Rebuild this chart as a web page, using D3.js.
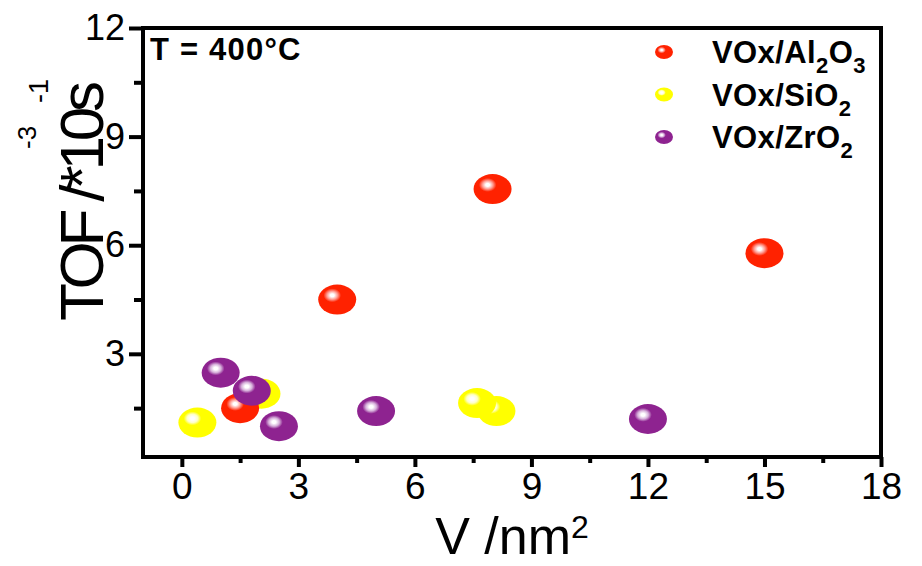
<!DOCTYPE html>
<html>
<head>
<meta charset="utf-8">
<script src="https://cdn.jsdelivr.net/npm/d3@7"></script>
<style>
  body { margin: 0; background: #fff; }
  svg { display: block; font-family: "Liberation Sans", Arial, sans-serif; }
</style>
</head>
<body>
<svg id="chart" width="922" height="566"></svg>
<script>
// data (V per nm2, TOF *10^-3 s^-1)
const alX = [1.5, 4.0, 8.0, 15.0];
const alY = [1.5, 4.5, 7.55, 5.78];
const siX = [0.4, 2.05, 8.1, 7.6];
const siY = [1.1, 1.9, 1.42, 1.64];
const zrX = [1.0, 1.8, 2.5, 5.0, 12.0];
const zrY = [2.48, 1.98, 1.0, 1.42, 1.2];
const xTicks = [0, 3, 6, 9, 12, 15, 18];
const xMinor = [1.5, 4.5, 7.5, 10.5, 13.5, 16.5];
const yTicks = [3, 6, 9, 12];
const yMinor = [1.5, 4.5, 7.5, 10.5];

const series = [
  { key: "si", xs: siX, ys: siY, base: "#ffff00", tint: "#ffffc8" },
  { key: "al", xs: alX, ys: alY, base: "#ff2200", tint: "#ff9a90" },
  { key: "zr", xs: zrX, ys: zrY, base: "#8e2390", tint: "#d6b0da" }
];

const PLOT = { left: 143, right: 881, top: 28, bottom: 457 };

const svg = d3.select("#chart");
const x = d3.scaleLinear().domain([-1, 18]).range([PLOT.left, PLOT.right]);
const y = d3.scaleLinear().domain([0.15, 12]).range([PLOT.bottom, PLOT.top]);

// sphere-like gradients
const defs = svg.append("defs");
series.forEach((s) => {
  const g = defs.append("radialGradient")
    .attr("id", "g-" + s.key)
    .attr("cx", 0.37).attr("cy", 0.36).attr("r", 0.5);
  g.append("stop").attr("offset", "0").attr("stop-color", "#ffffff");
  g.append("stop").attr("offset", "0.1").attr("stop-color", "#ffffff");
  g.append("stop").attr("offset", "0.28").attr("stop-color", s.tint);
  g.append("stop").attr("offset", "0.46").attr("stop-color", s.base);
  g.append("stop").attr("offset", "1").attr("stop-color", s.base);
});

// axes
function styleAxis(g) {
  g.select(".domain").remove();
  g.selectAll(".tick line").attr("stroke", "#000").attr("stroke-width", 4);
  g.selectAll(".tick text").attr("fill", "#000");
}

svg.append("g")
  .attr("transform", `translate(0,${PLOT.bottom})`)
  .call(d3.axisBottom(x).tickValues(xMinor).tickSize(6).tickFormat(""))
  .call(styleAxis);

svg.append("g")
  .attr("transform", `translate(0,${PLOT.bottom})`)
  .call(d3.axisBottom(x).tickValues(xTicks).tickSize(10).tickPadding(6).tickFormat(d3.format("d")))
  .call(styleAxis)
  .selectAll(".tick text")
  .style("font-size", "37px")
  .attr("dy", "0.71em");

svg.append("g")
  .attr("transform", `translate(${PLOT.left},0)`)
  .call(d3.axisLeft(y).tickValues(yMinor).tickSize(9).tickFormat(""))
  .call(styleAxis);

svg.append("g")
  .attr("transform", `translate(${PLOT.left},0)`)
  .call(d3.axisLeft(y).tickValues(yTicks).tickSize(14).tickPadding(4).tickFormat(d3.format("d")))
  .call(styleAxis)
  .selectAll(".tick text")
  .style("font-size", "36px");

// frame
svg.append("rect")
  .attr("x", PLOT.left).attr("y", PLOT.top)
  .attr("width", PLOT.right - PLOT.left)
  .attr("height", PLOT.bottom - PLOT.top)
  .attr("fill", "none")
  .attr("stroke", "#000")
  .attr("stroke-width", 4);

// points
series.forEach((s) => {
  svg.append("g")
    .selectAll("ellipse")
    .data(s.xs.map((v, i) => [v, s.ys[i]]))
    .join("ellipse")
    .attr("cx", (d) => x(d[0]))
    .attr("cy", (d) => y(d[1]))
    .attr("rx", 19)
    .attr("ry", 15)
    .attr("fill", `url(#g-${s.key})`);
});

// temperature note
svg.append("text")
  .attr("x", 150).attr("y", 60)
  .style("font-size", "31px")
  .style("font-weight", "bold")
  .style("letter-spacing", "1.2px")
  .text("T = 400°C");

// legend
const legend = [
  { key: "al", main: "VOx/Al", parts: [["2", true], ["O", false], ["3", true]] },
  { key: "si", main: "VOx/SiO", parts: [["2", true]] },
  { key: "zr", main: "VOx/ZrO", parts: [["2", true]] }
];
legend.forEach((l, i) => {
  const cy = 52 + i * 42.5;
  svg.append("ellipse")
    .attr("cx", 664).attr("cy", cy)
    .attr("rx", 9).attr("ry", 7)
    .attr("fill", `url(#g-${l.key})`);
  const t = svg.append("text")
    .attr("x", 712).attr("y", cy + 11)
    .style("font-size", "31px")
    .style("font-weight", "bold")
    .style("letter-spacing", "0.4px");
  t.append("tspan").text(l.main);
  let down = false;
  l.parts.forEach(([str, sub]) => {
    const ts = t.append("tspan").text(str);
    if (sub && !down) { ts.attr("dy", 10).style("font-size", "22px"); down = true; }
    else if (sub) { ts.style("font-size", "22px"); }
    else { ts.attr("dy", -10); down = false; }
  });
});

// axis titles
const xt = svg.append("text")
  .attr("x", 512).attr("y", 554)
  .attr("text-anchor", "middle")
  .style("font-size", "52px");
xt.append("tspan").text("V /nm");
xt.append("tspan").attr("dy", -16).style("font-size", "32px").text("2");

svg.append("text")
  .attr("transform", "translate(103,321) rotate(-90)")
  .attr("textLength", 240)
  .attr("lengthAdjust", "spacing")
  .style("font-size", "62px")
  .text("TOF /*10s");
svg.append("text")
  .attr("transform", "translate(36,149) rotate(-90)")
  .style("font-size", "26px")
  .text("-3");
svg.append("text")
  .attr("transform", "translate(48,103) rotate(-90)")
  .style("font-size", "27px")
  .text("-1");
</script>
</body>
</html>
